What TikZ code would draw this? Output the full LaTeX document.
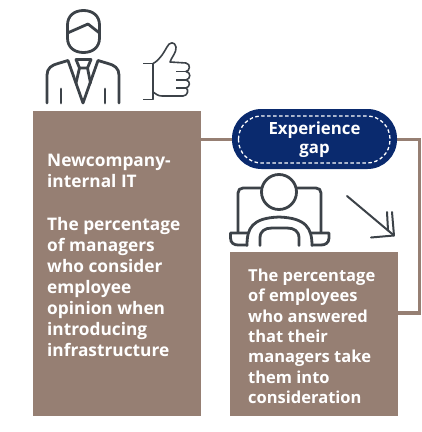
\documentclass[tikz,border=0pt]{standalone}
\usepackage{fontspec}
\setmainfont{Open Sans}
\definecolor{taupe}{HTML}{967F73}
\definecolor{navyb}{HTML}{0A2A6E}
\definecolor{icon}{HTML}{3C4248}
\tikzset{
 boxtext/.style={text=white,align=left,anchor=north west,inner sep=0pt},
 link/.style={draw=taupe,line width=3.6pt},
 iconline/.style={draw=icon,line width=2.8pt,line cap=round,line join=round},
 thinicon/.style={draw=icon,line width=1.6pt,line join=round},
 arrowline/.style={draw=icon,line width=2pt,line cap=round,line join=round},
}
\begin{document}
\begin{tikzpicture}[x=1pt,y=-1pt]
\useasboundingbox (0,0) rectangle (422,432);
\node[fill=taupe,minimum width=168pt,minimum height=305pt,inner sep=0pt,anchor=north west] (left) at (33,111) {};
\node[fill=taupe,minimum width=168pt,minimum height=164pt,inner sep=0pt,anchor=north west] (right) at (230,252) {};
\coordinate (c1) at (419.5,139.5);
\coordinate (c2) at (419.5,313);
\coordinate (l1) at (201,139.5);
\coordinate (r1) at (398,313);
\draw[link] (l1) -- (c1) -- (c2) -- (r1);
\node[fill=navyb,rounded corners=29.5pt,minimum width=165pt,minimum height=60pt,inner sep=0pt] (pill) at (314.5,139) {};
\draw[white,line width=1.3pt,dash pattern=on 3.5pt off 2.5pt,rounded corners=23pt] (238.5,116) rectangle (390,163);
\node[text=white,font=\bfseries\fontsize{16.8pt}{19pt}\selectfont,align=center] (gap) at (314.5,140) {Experience\\gap};
\node[boxtext,font=\bfseries\fontsize{17.3pt}{21.1pt}\selectfont] (ltext) at (47,153.5) {Newcompany-\\internal IT\\[22pt]The percentage\\of managers\\who consider\\employee\\opinion when\\introducing\\infrastructure};
\node[boxtext,font=\bfseries\fontsize{16.5pt}{20.4pt}\selectfont] (rtext) at (248,268.5) {The percentage\\of employees\\who answered\\that their\\managers take\\them into\\consideration};
% man icon
\draw[iconline] (83.5,10.5) .. controls (74,10.5) and (67.5,16) .. (67.5,25) -- (67.5,38) .. controls (67.5,47) and (74,52.5) .. (83.5,52.5) .. controls (93,52.5) and (99.5,47) .. (99.5,38) -- (99.5,25) .. controls (99.5,16) and (93,10.5) .. (83.5,10.5) -- cycle;
\draw[iconline] (67.5,33) -- (88,24) -- (99.5,33);
\draw[iconline] (47,103) -- (47,75) .. controls (47,68) and (52,65) .. (58,63.5) -- (68,60.5) -- (83,103) -- (98,60.5) -- (108,63.5) .. controls (114,65) and (119,68) .. (119,75) -- (119,103);
\draw[iconline] (76,59.5) -- (91,59.5) -- (87.5,68) -- (79.5,68) -- cycle;
\draw[iconline] (79.5,68) -- (76,83);
\draw[iconline] (87.5,68) -- (90.5,83);
\draw[iconline] (61,89) -- (61,103);
\draw[iconline] (105,89) -- (105,103);
% thumb
\draw[thinicon] (143,63.5) -- (153,63.5) -- (153,99.5) -- (143,99.5);
\draw[thinicon] (153,63.5) .. controls (160,60) and (164,52) .. (167,47) .. controls (169,42) and (175,41) .. (176,47) .. controls (177,52) and (171,58) .. (170,62) -- (186,63) .. controls (191,64) and (190,71) .. (186,71.5) .. controls (191,72) and (191,79) .. (186,80) .. controls (191,81) and (190,87) .. (186,88) .. controls (189,89) and (188,96) .. (183,96) -- (162,96) .. controls (158,96) and (156,94) .. (153,92);
\draw[thinicon] (176,71.5) -- (186,71.5) (176,80) -- (186,80) (176,88) -- (186,88);
% person at desk icon
\draw[iconline] (261,188) -- (243,188) .. controls (240,188) and (238,190) .. (238,193) -- (238,232);
\draw[iconline] (297,188) -- (316,188) .. controls (319,188) and (321,190) .. (321,193) -- (321,232);
\draw[iconline] (279,192) circle[radius=17.5];
\draw[iconline] (247,245.5) .. controls (247,228) and (252,218) .. (279,217) .. controls (306,218) and (312,228) .. (312,245.5);
\draw[iconline] (260,245.5) -- (260,238) .. controls (260,231) and (265,228) .. (272,228) -- (287,228) .. controls (294,228) and (299,231) .. (299,238) -- (299,245.5);
\draw[iconline] (248,233) -- (230.5,233) -- (230.5,238) .. controls (230.5,243) and (234,245) .. (238,245) -- (247,245);
\draw[iconline] (311,233) -- (329,233) -- (329,238) .. controls (329,243) and (325,245) .. (321,245) -- (312,245);
% arrow
\draw[arrowline] (347,196) -- (394,235.5);
\draw[arrowline] (371,237.5) -- (394,235.5) -- (392,212);
\draw[arrowline] (388,230) -- (387,212);
\end{tikzpicture}
\end{document}
